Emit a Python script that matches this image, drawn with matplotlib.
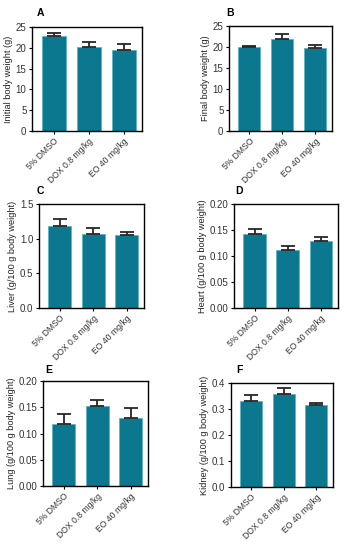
import matplotlib
matplotlib.use("Agg")
import matplotlib.pyplot as plt
import numpy as np

W, H = 353, 550

groups = ["5% DMSO", "DOX 0.8 mg/kg", "EO 40 mg/kg"]

initial_mean = [22.8, 20.2, 19.5]
initial_err = [0.7, 1.1, 1.3]
final_mean = [19.9, 21.9, 19.7]
final_err = [0.4, 1.2, 0.8]
liver_mean = [1.18, 1.07, 1.05]
liver_err = [0.11, 0.08, 0.05]
heart_mean = [0.142, 0.112, 0.128]
heart_err = [0.009, 0.007, 0.009]
lung_mean = [0.119, 0.153, 0.130]
lung_err = [0.018, 0.011, 0.019]
kidney_mean = [0.329, 0.359, 0.314]
kidney_err = [0.026, 0.022, 0.008]

panels = [
    # letter, mean, err, ylabel, ymax, ystep, fmt, axes box (px: left, top, right, bottom), letter pos
    ("A", initial_mean, initial_err, "Initial body weight (g)", 25, 5, "%d", (32, 27, 142, 131), (37, 13)),
    ("B", final_mean, final_err, "Final body weight (g)", 25, 5, "%d", (229, 26, 332, 131), (226, 13)),
    ("C", liver_mean, liver_err, "Liver (g/100 g body weight)", 1.5, 0.5, "%.1f", (39, 204, 144, 308), (37, 191)),
    ("D", heart_mean, heart_err, "Heart (g/100 g body weight)", 0.20, 0.05, "%.2f", (234, 204, 338, 308), (235, 191)),
    ("E", lung_mean, lung_err, "Lung (g/100 g body weight)", 0.20, 0.05, "%.2f", (43, 381, 148, 486), (45, 370)),
    ("F", kidney_mean, kidney_err, "Kidney (g/100 g body weight)", 0.4, 0.1, "%.1f", (231, 383, 333, 487), (236, 370)),
]

bar_color = "#0c7890"
edge_color = "#5ab5c8"

fig = plt.figure(figsize=(W / 100, H / 100), dpi=100)
plt.rcParams['font.family'] = ['Liberation Sans', 'DejaVu Sans']

x = np.arange(len(groups))
for letter, mean, err, ylab, ymax, ystep, fmt, box, lpos in panels:
    l, t, r, b = box
    ax = fig.add_axes([l / W, 1 - b / H, (r - l) / W, (b - t) / H])
    ax.bar(x, mean, width=0.68, color=bar_color, edgecolor=edge_color, linewidth=0.6, zorder=2)
    ax.errorbar(x, mean, yerr=[np.zeros(len(mean)), err], fmt="none", ecolor="#262626",
                elinewidth=1.3, capsize=5, capthick=1.3, zorder=3)
    ax.set_xlim(-0.62, 2.52)
    ax.set_ylim(0, ymax)
    ax.set_yticks(np.arange(0, ymax + ystep / 2, ystep))
    ax.yaxis.set_major_formatter(matplotlib.ticker.FormatStrFormatter(fmt))
    ax.set_xticks(x)
    ax.set_xticklabels(groups, rotation=45, ha="right", rotation_mode="anchor", fontsize=6.2)
    ax.tick_params(axis="y", labelsize=7)
    ax.tick_params(axis="both", direction="out", length=2.5, width=0.8,
                   pad=1.5, labelcolor="#333333")
    ax.set_ylabel(ylab, fontsize=6.6, labelpad=2, color="#222222")
    for s in ax.spines.values():
        s.set_linewidth(1.0)
    fig.text(lpos[0] / W, 1 - lpos[1] / H, letter, fontsize=7.5, fontweight="bold", va="center", ha="left")

fig.savefig("out.png", dpi=100)
